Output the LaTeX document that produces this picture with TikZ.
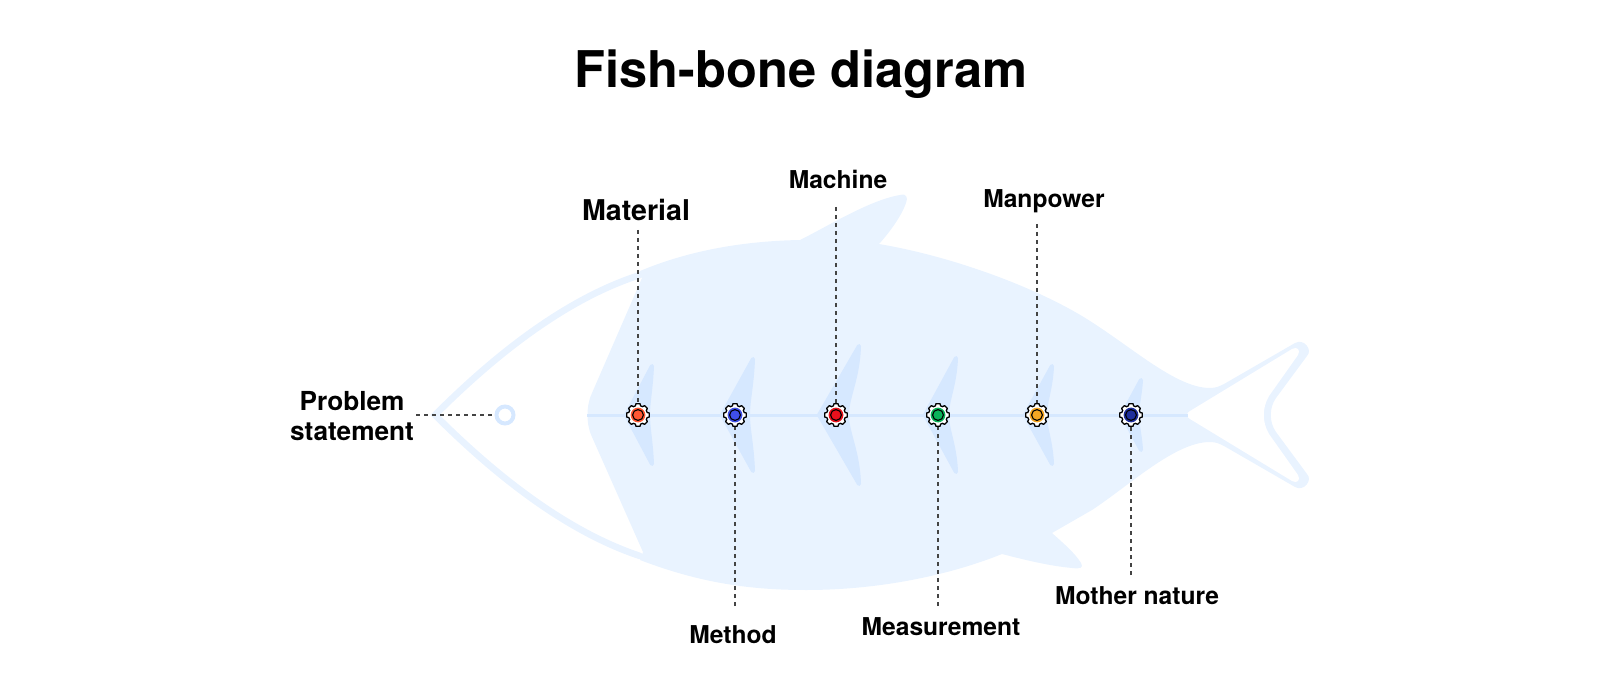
\documentclass[tikz,border=0pt]{standalone}
\usepackage{fontspec}
\setmainfont{TeX Gyre Heros}
\definecolor{fishc}{HTML}{E9F3FF}
\definecolor{ribc}{HTML}{D6E8FF}
\definecolor{dashc}{HTML}{444444}
\definecolor{cA}{HTML}{FF5733}
\definecolor{cB}{HTML}{3F4FE8}
\definecolor{cC}{HTML}{E8101C}
\definecolor{cD}{HTML}{0CB35A}
\definecolor{cE}{HTML}{F5A623}
\definecolor{cF}{HTML}{1F2F9C}
\tikzset{
 lbl/.style={font=\bfseries\fontsize{12.3}{15}\selectfont,text=black,inner sep=0pt,align=center,anchor=base},
 conn/.style={draw=dashc,line width=0.55pt,dash pattern=on 2.2pt off 1.8pt},
 ribshape/.style={fill=ribc,draw=ribc,line width=2pt,line join=round},
 gearshape/.style={fill=white,draw=black,line width=0.65pt,line join=round},
 gearhit/.style={circle,minimum size=11.5pt,inner sep=0pt},
 gearcore/.style={circle,minimum size=7.4pt,inner sep=0pt},
 gearring/.style={circle,minimum size=5.4pt,inner sep=0pt,draw=black,line width=0.55pt},
}
\newcommand{\ribbone}[4]{% left, tip, half-height, inner
 \path[ribshape] (#1,415) -- (#2-2,415-#3+3)
  .. controls (#2-3,415-#3/2) and (#4-1,415-#3/4) .. (#4-1,415)
  .. controls (#4-1,415+#3/4) and (#2-3,415+#3/2) .. (#2-2,415+#3-3) -- cycle;}
\newcommand{\gearicon}[3]{% name, x, colour
 \draw[gearshape,shift={(#2,415)}] (-15:9.5)
  \foreach \a in {0,45,...,315}{ -- ({\a-10}:11.5) -- ({\a+10}:11.5) -- ({\a+16}:9.5) -- ({\a+29}:9.5)} -- cycle;
 \node[gearhit] (#1) at (#2,415) {};
 \node[gearcore,fill=#3] (#1c) at (#2,415) {};
 \node[gearring,fill=#3] (#1r) at (#2,415) {};}
\begin{document}
\begin{tikzpicture}[x=0.5pt,y=-0.5pt]
\useasboundingbox (0,0) rectangle (1600,700);
% body
\fill[fishc] (640,271) .. controls (690,250) and (745,241) .. (800,240)
 .. controls (830,225) and (870,200) .. (900,195)
 .. controls (907,193) and (908,198) .. (906,203)
 .. controls (902,215) and (890,232) .. (879,244)
 .. controls (950,256) and (1030,285) .. (1082,316)
 .. controls (1130,345) and (1175,388) .. (1210,388)
 .. controls (1216,388) and (1220,386) .. (1224,384)
 -- (1295,343) .. controls (1304,338) and (1313,350) .. (1307,356)
 -- (1276,398) .. controls (1269,408) and (1269,422) .. (1276,432)
 -- (1307,474) .. controls (1313,480) and (1304,492) .. (1295,487)
 -- (1224,446) .. controls (1220,444) and (1216,442) .. (1210,442)
 .. controls (1175,442) and (1130,485) .. (1092,510)
 -- (1052,533) .. controls (1062,542) and (1075,553) .. (1081,563)
 .. controls (1084,568) and (1080,569) .. (1072,568)
 .. controls (1050,566) and (1025,560) .. (1002,554)
 .. controls (950,575) and (880,590) .. (806,590)
 .. controls (750,590) and (700,583) .. (640,560)
 -- (643,552) -- (592,437) .. controls (586,425) and (586,405) .. (592,393) -- (642,278) -- cycle;
% tail hollow
\fill[white] (1190,411) -- (1292,349) .. controls (1297,346) and (1301,350) .. (1298,355)
 -- (1269,396) .. controls (1262,408) and (1262,422) .. (1269,434)
 -- (1298,475) .. controls (1301,480) and (1297,484) .. (1292,481)
 -- (1190,419) .. controls (1186,417) and (1186,413) .. (1190,411) -- cycle;
% head
\draw[fishc,line width=3.3pt,line cap=round,line join=miter]
 (640,275) .. controls (562,300) and (490,360) .. (435,415)
 .. controls (490,470) and (562,530) .. (640,556);
% ribs
\ribbone{626}{654}{52}{649}
\ribbone{722}{755}{59}{749}
\ribbone{819}{861}{72}{848}
\ribbone{925}{958}{60}{948}
\ribbone{1025}{1054}{52}{1046}
\ribbone{1122}{1143}{38}{1138}
% spine
\coordinate (spineL) at (587,415);
\coordinate (spineR) at (1188,415);
\draw[ribc,line width=1.5pt] (spineL) -- (spineR);
% eye
\node[circle,draw=ribc,line width=2pt,fill=white,minimum size=8.5pt,inner sep=0pt] (eye) at (505,415) {};
% gears
\gearicon{g1}{638}{cA}
\gearicon{g2}{735}{cB}
\gearicon{g3}{836}{cC}
\gearicon{g4}{938}{cD}
\gearicon{g5}{1037}{cE}
\gearicon{g6}{1131}{cF}
% labels
\node[inner sep=0pt,anchor=base,font=\bfseries\fontsize{25.3}{30}\selectfont] (title) at (801,88) {Fish-bone diagram};
\node[lbl,font=\bfseries\fontsize{14.3}{15}\selectfont] (mat) at (636,221) {Material};
\node[lbl] (mach) at (838,189) {Machine};
\node[lbl] (manp) at (1044,208) {Manpower};
\node[lbl] (meth) at (733,643) {Method};
\node[lbl] (meas) at (941,635) {Measurement};
\node[lbl] (moth) at (1137,604) {Mother nature};
\node[lbl,anchor=center,font=\bfseries\fontsize{13.1}{15}\selectfont] (prob) at (352,416) {Problem\\statement};
% connector ends
\coordinate (e1) at (638,230);
\coordinate (e2) at (735,606);
\coordinate (e3) at (836,207);
\coordinate (e4) at (938,606);
\coordinate (e5) at (1037,224);
\coordinate (e6) at (1131,575);
\coordinate (e7) at (416,415);
\draw[conn] (e1) -- (g1);
\draw[conn] (e2) -- (g2);
\draw[conn] (e3) -- (g3);
\draw[conn] (e4) -- (g4);
\draw[conn] (e5) -- (g5);
\draw[conn] (e6) -- (g6);
\draw[conn] (e7) -- (eye);
\end{tikzpicture}
\end{document}
